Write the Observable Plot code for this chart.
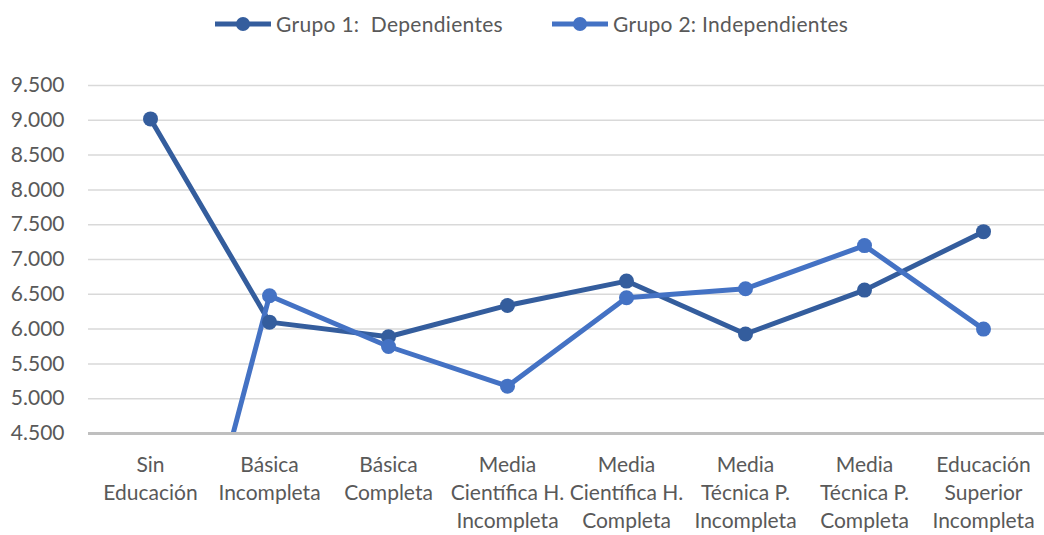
<!DOCTYPE html>
<html>
<head>
<meta charset="utf-8">
<script src="https://cdn.jsdelivr.net/npm/d3@7"></script>
<script src="https://cdn.jsdelivr.net/npm/@observablehq/plot@0.6"></script>
<style>
  body { margin: 0; background: #fff; font-family: Lato, "Open Sans", sans-serif; }
  #legend { position: relative; height: 48px; }
  .item { position: absolute; top: 11px; display: flex; align-items: center; font-size: 21px; color: #595959; white-space: pre; letter-spacing: 0.3px; }
  .item svg { margin-right: 5px; }
</style>
</head>
<body>
<div id="legend"></div>
<div id="chart"></div>
<script>
const categorias = ["Sin Educación", "Básica Incompleta", "Básica Completa", "Media Científica H. Incompleta", "Media Científica H. Completa", "Media Técnica P. Incompleta", "Media Técnica P. Completa", "Educación Superior Incompleta"];
const etiquetas = ["Sin\nEducación", "Básica\nIncompleta", "Básica\nCompleta", "Media\nCientífica H.\nIncompleta", "Media\nCientífica H.\nCompleta", "Media\nTécnica P.\nIncompleta", "Media\nTécnica P.\nCompleta", "Educación\nSuperior\nIncompleta"];
const series = ["Grupo 1:  Dependientes", "Grupo 2: Independientes"];
const grupo1 = [9020, 6100, 5890, 6340, 6690, 5930, 6560, 7400];
const grupo2 = [0, 6480, 5750, 5180, 6450, 6580, 7200, 6000];
const yTicks = [4500, 5000, 5500, 6000, 6500, 7000, 7500, 8000, 8500, 9000, 9500];
const colores = ["#345D9D", "#4472C4"];

const data = [];
categorias.forEach((c, i) => data.push({cat: c, serie: series[0], valor: grupo1[i]}));
categorias.forEach((c, i) => data.push({cat: c, serie: series[1], valor: grupo2[i]}));

// legend
const legend = document.getElementById("legend");
const lefts = [215, 552];
series.forEach((s, i) => {
  const div = document.createElement("div");
  div.className = "item";
  div.style.left = lefts[i] + "px";
  div.innerHTML = `<svg width="56" height="16"><line x1="0" y1="8" x2="56" y2="8" stroke="${colores[i]}" stroke-width="5"/><circle cx="28" cy="8" r="7" fill="${colores[i]}"/></svg><span>${s}</span>`;
  legend.appendChild(div);
});

const fmt = d => d3.format(",")(d).replace(/,/g, ".");

const chart = Plot.plot({
  width: 1044,
  height: 487,
  marginLeft: 88,
  marginRight: 0,
  marginTop: 37,
  marginBottom: 102,
  style: {fontFamily: "Lato, 'Open Sans', sans-serif", color: "#595959"},
  x: {type: "point", domain: categorias, padding: 0.5, label: null},
  y: {domain: [4500, 9500], label: null},
  color: {domain: series, range: colores},
  marks: [
    Plot.gridY(yTicks, {stroke: "#d9d9d9", strokeOpacity: 1, strokeWidth: 1.5}),
    Plot.axisY(yTicks, {tickSize: 0, tickPadding: 24, tickFormat: fmt, fontSize: 21, fill: "#595959", label: null}),
    Plot.axisX({tickSize: 0, tickPadding: 19, tickFormat: d => etiquetas[categorias.indexOf(d)], fontSize: 21, lineHeight: 1.33, fill: "#595959", label: null}),
    Plot.line(data, {x: "cat", y: "valor", z: "serie", stroke: "serie", strokeWidth: 5, clip: true}),
    Plot.dot(data, {x: "cat", y: "valor", fill: "serie", r: 7.5, clip: true}),
    Plot.ruleY([4500], {stroke: "#bfbfbf", strokeWidth: 3})
  ]
});
document.getElementById("chart").appendChild(chart);
</script>
</body>
</html>
